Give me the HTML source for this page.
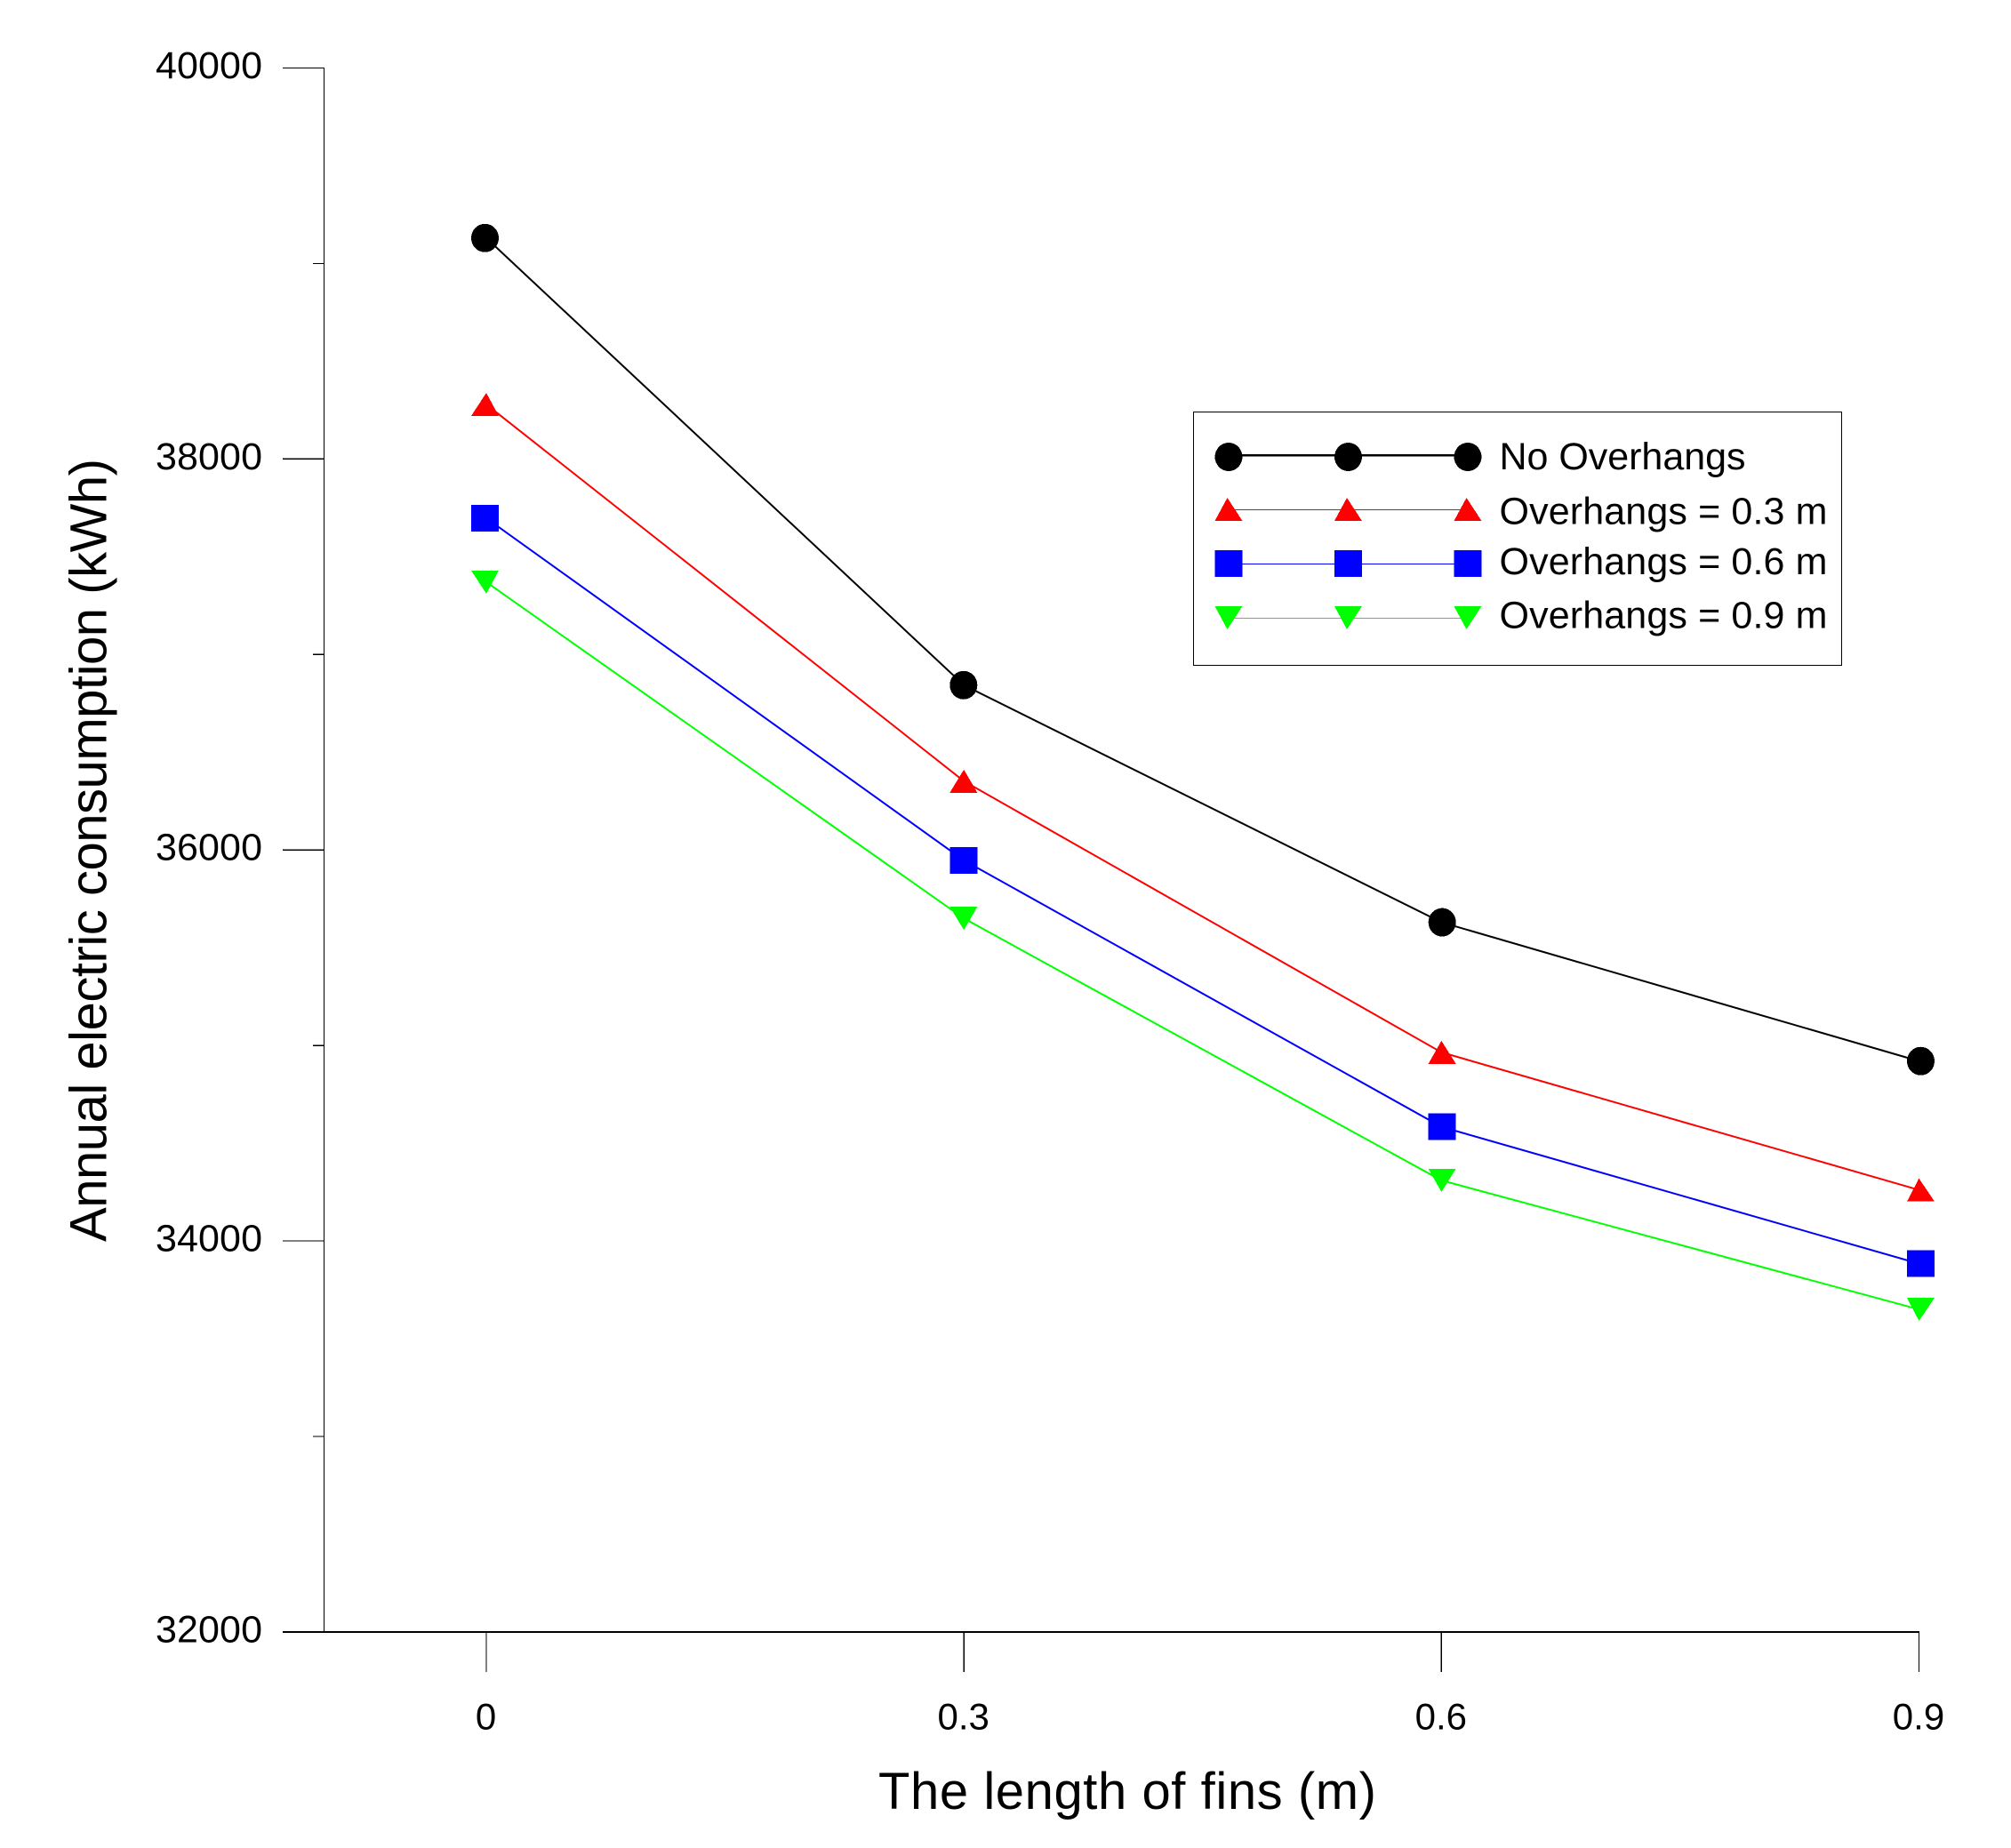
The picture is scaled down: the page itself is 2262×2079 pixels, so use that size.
<!DOCTYPE html>
<html lang="en">
<head>
<meta charset="utf-8">
<title>Annual electric consumption vs fin length</title>
<style>
html,body{margin:0;padding:0;background:#fff;width:2262px;height:2079px;overflow:hidden}
svg{display:block}
text{font-family:"Liberation Sans",Arial,sans-serif;fill:#000}
</style>
</head>
<body>
<svg id="chart" xmlns="http://www.w3.org/2000/svg" width="2262" height="2079" viewBox="0 0 2262 2079">
<rect x="0" y="0" width="2262" height="2079" fill="#fff"/>
<g id="axes"></g>
<g id="series"></g>
<text x="988" y="2035" font-size="58" textLength="560" lengthAdjust="spacing">The length of fins (m)</text>
<text transform="translate(119.5,1397) rotate(-90)" x="0" y="0" font-size="58" textLength="881" lengthAdjust="spacing">Annual electric consumption (kWh)</text>
<g id="legend">
<rect x="1342.5" y="463.5" width="729" height="285" fill="#fff" stroke="#000" stroke-width="1.3" shape-rendering="crispEdges"/>
</g>
</svg>
<script>
const categories = [0, 0.3, 0.6, 0.9];
const xTickLabels = ["0", "0.3", "0.6", "0.9"];
const yMajorTicks = [32000, 34000, 36000, 38000, 40000];
const yMinorTicks = [33000, 35000, 37000, 39000];
const noOverhangs = [39130, 36843, 35630, 34920];
const overhangs03 = [38279, 36352, 34965, 34261];
const overhangs06 = [37697, 35947, 34584, 33884];
const overhangs09 = [37370, 35650, 34310, 33650];
const seriesNames = ["No Overhangs", "Overhangs = 0.3 m", "Overhangs = 0.6 m", "Overhangs = 0.9 m"];

const NS = "http://www.w3.org/2000/svg";
const seriesValues = [noOverhangs, overhangs03, overhangs06, overhangs09];
const seriesColors = ["#000000", "#ff0000", "#0000ff", "#00ff00"];
const seriesKeys = ["no-overhangs", "overhangs-03", "overhangs-06", "overhangs-09"];
const markerKinds = ["circle", "up", "square", "down"];

function xScale(v) { return 547 + (v / 0.9) * 1611.5; }
function markerXScale(v) { return 545.5 + (v / 0.9) * 1615; }
function yScale(v) { return 76.4 + (40000 - v) * 0.21995; }

function make(tag, parent, attrs) {
  const el = document.createElementNS(NS, tag);
  Object.keys(attrs).forEach(function (k) { el.setAttribute(k, attrs[k]); });
  parent.appendChild(el);
  return el;
}

function drawMarker(parent, kind, cx, apexX, cy, color) {
  let el;
  if (kind === "circle") {
    el = make("ellipse", parent, { cx: cx, cy: cy, rx: 15.5, ry: 16, fill: color, "shape-rendering": "crispEdges" });
  } else if (kind === "square") {
    el = make("rect", parent, { x: cx - 15.5, y: cy - 15, width: 31, height: 30, fill: color, "shape-rendering": "crispEdges" });
  } else if (kind === "up") {
    el = make("polygon", parent, { points: (cx - 15.5) + "," + (cy + 13) + " " + apexX + "," + (cy - 13) + " " + (cx + 15.5) + "," + (cy + 13), fill: color, "shape-rendering": "crispEdges" });
  } else {
    el = make("polygon", parent, { points: (cx - 15.5) + "," + (cy - 13) + " " + apexX + "," + (cy + 13) + " " + (cx + 15.5) + "," + (cy - 13), fill: color, "shape-rendering": "crispEdges" });
  }
  return el;
}

const axes = document.getElementById("axes");
const yAxis = make("line", axes, { x1: 364.5, y1: 76.4, x2: 364.5, y2: 1836, stroke: "#000", "stroke-width": 1.2, "shape-rendering": "crispEdges" });


const xAxis = make("line", axes, { x1: 318, y1: 1836, x2: 2159, y2: 1836, stroke: "#000", "stroke-width": 2, "shape-rendering": "crispEdges" });



yMajorTicks.forEach(function (v) {
  const y = yScale(v);
  const tick = make("line", axes, { x1: 318, y1: y, x2: 365, y2: y, stroke: "#000", "stroke-width": 1.2, "shape-rendering": "crispEdges" });
  
  
  const label = make("text", axes, { x: 175, y: y + 11.5, "font-size": 43, textLength: 120, lengthAdjust: "spacing" });
  label.textContent = String(v);
  
  
});

yMinorTicks.forEach(function (v) {
  const y = yScale(v);
  const tick = make("line", axes, { x1: 352, y1: y, x2: 365, y2: y, stroke: "#000", "stroke-width": 1.2, "shape-rendering": "crispEdges" });
  
  
});

categories.forEach(function (v, i) {
  const x = xScale(v);
  const tick = make("line", axes, { x1: x, y1: 1836, x2: x, y2: 1881, stroke: "#000", "stroke-width": 1.4, "shape-rendering": "crispEdges" });
  
  
  const label = make("text", axes, { x: x - 0.5, y: 1945.5, "font-size": 42, "text-anchor": "middle" });
  label.textContent = xTickLabels[i];
  
  
});

const seriesLayer = document.getElementById("series");
seriesValues.forEach(function (values, s) {
  const group = make("g", seriesLayer, {});
  
  
  const pts = values.map(function (v, i) { return xScale(categories[i]) + "," + yScale(v); }).join(" ");
  const line = make("polyline", group, { points: pts, fill: "none", stroke: seriesColors[s], "stroke-width": 2 });
  
  
  values.forEach(function (v, i) {
    const m = drawMarker(group, markerKinds[s], markerXScale(categories[i]), xScale(categories[i]), yScale(v), seriesColors[s]);
    
    
  });
});

const legend = document.getElementById("legend");
const legendLineY = [512, 573.5, 634.5, 695.5];
const legendMarkerY = [514, 573, 634, 695];
const legendTextY = [528, 589.5, 646, 706.5];
const legendWidths = [277, 369, 369, 369];
const legendXs = [1382, 1516.5, 1651];
seriesNames.forEach(function (name, s) {
  const entry = make("g", legend, {});
  
  
  const line = make("line", entry, { x1: 1382, y1: legendLineY[s], x2: 1651, y2: legendLineY[s], stroke: seriesColors[s], "stroke-width": s === 0 ? 2.5 : 1.4, "shape-rendering": "crispEdges" });
  
  
  legendXs.forEach(function (x) {
    const m = drawMarker(entry, markerKinds[s], x, x - 1.5, legendMarkerY[s], seriesColors[s]);
    
    
  });
  const label = make("text", entry, { x: 1686.5, y: legendTextY[s], "font-size": 43, textLength: legendWidths[s], lengthAdjust: "spacing" });
  label.textContent = name;
  
  
});
</script>
</body>
</html>
